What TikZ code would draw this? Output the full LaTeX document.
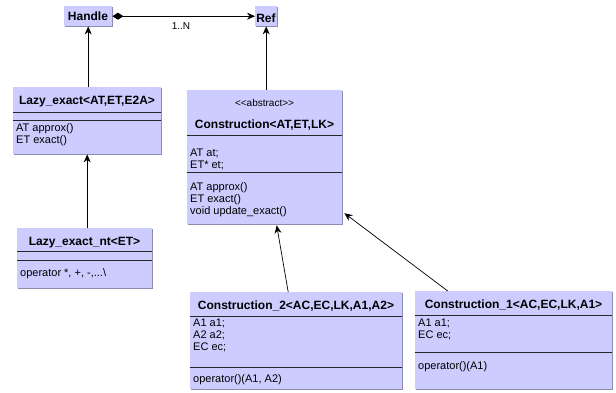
\documentclass[tikz,border=0pt]{standalone}
\usepackage{fontspec}
\setmainfont{Liberation Sans}
\usetikzlibrary{positioning,arrows.meta,shadows}
\definecolor{umlfill}{RGB}{204,204,255}
\definecolor{umledge}{RGB}{140,140,175}
\tikzset{cls/.style = {fill=umlfill,anchor=north west,inner sep=0pt,
                       drop shadow={shadow xshift=1pt,shadow yshift=-1pt,fill=umledge,opacity=1}},
         cname/.style = {font=\fontsize{12}{14}\selectfont\bfseries,anchor=base,inner sep=0pt},
         stereo/.style = {font=\fontsize{10}{12}\selectfont,anchor=base,inner sep=0pt},
         members/.style = {font=\fontsize{11}{12}\selectfont,anchor=north west,align=left,inner sep=0pt},
         sep/.style = {line width=0.9pt,black!85},
         link/.style = {-{Stealth[length=8pt,width=7pt]},line width=0.7pt}}

\begin{document}
\begin{tikzpicture}[x=1pt,y=-1pt]
            \useasboundingbox (0,0) rectangle (616,392);
            % top row
            \node[cls,minimum width=48pt,minimum height=20pt] (handle) at (64,6) {};
            \node[cname] (handlename) at (88,20) {Handle};
            \node[cls,minimum width=22pt,minimum height=20pt] (ref) at (255,6) {};
            \node[cname] (refname) at (266,22) {Ref};
            % Lazy_exact
            \node[cls,minimum width=148pt,minimum height=67pt] (lazy) at (13,87) {};
            \node[cname] (lazyname) at (87,104) {Lazy\_exact<AT,ET,E2A>};
            \draw[sep] (13,112) -- (161,112);
            \draw[sep] (13,120) -- (161,120);
            \node[members] (lazyops) at (16,123.5) {AT approx()\\ET exact()};
            % Lazy_exact_nt
            \node[cls,minimum width=135pt,minimum height=60pt] (lazynt) at (17,228) {};
            \node[cname] (lazyntname) at (84.5,245) {Lazy\_exact\_nt<ET>};
            \draw[sep] (17,251) -- (152,251);
            \draw[sep] (17,260) -- (152,260);
            \node[members] (lazyntops) at (20,268.5) {operator *, +, -,...\textbackslash};
            % Construction
            \node[cls,minimum width=155pt,minimum height=134pt] (constr) at (187,90) {};
            \node[stereo] (constrstereo) at (264.5,106.5) {<{}<abstract>{}>};
            \node[cname] (constrname) at (264.5,128.5) {Construction<AT,ET,LK>};
            \draw[sep] (187,135) -- (342,135);
            \draw[sep] (187,172) -- (342,172);
            \node[members] (constrattr) at (190,148.5) {AT at;\\ET* et;};
            \node[members] (constrops) at (190,182.5) {AT approx()\\ET exact()\\void update\_exact()};
            % Construction_2
            \node[cls,minimum width=212pt,minimum height=97pt] (ctwo) at (190,292) {};
            \node[cname] (ctwoname) at (296,309) {Construction\_2<AC,EC,LK,A1,A2>};
            \draw[sep] (190,316) -- (402,316);
            \draw[sep] (190,367) -- (402,367);
            \node[members] (ctwoattr) at (193,319) {A1 a1;\\A2 a2;\\EC ec;};
            \node[members] (ctwoops) at (193,374) {operator()(A1, A2)};
            % Construction_1
            \node[cls,minimum width=197pt,minimum height=98pt] (cone) at (415,291) {};
            \node[cname] (conename) at (513.5,308) {Construction\_1<AC,EC,LK,A1>};
            \draw[sep] (415,315) -- (612,315);
            \draw[sep] (415,352) -- (612,352);
            \node[members] (coneattr) at (418,318.5) {A1 a1;\\EC ec;};
            \node[members] (coneops) at (418,361) {operator()(A1)};
            % connectors
            \draw[link,{Diamond[length=11pt,width=7pt]}-{Stealth[length=8pt,width=7pt]}] (handle.east) -- (ref.west);
            \node[font=\fontsize{10}{12}\selectfont] (mult) at (181,26) {1..N};
            \draw[link] (lazy.north -| handle.south) -- (handle.south);
            \draw[link] (ref.south |- constr.north) -- (ref.south);
            \draw[link] (lazynt.north -| lazy.south) -- (lazy.south);
            \draw[link] ([xshift=-8pt]ctwo.north) -- ([xshift=12pt,yshift=-1pt]constr.south);
            \draw[link] ([xshift=-66pt]cone.north) -- ([xshift=2pt,yshift=-56pt]constr.east);
\end{tikzpicture}
\end{document}
